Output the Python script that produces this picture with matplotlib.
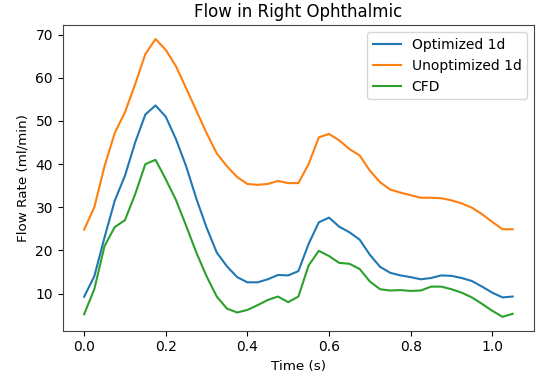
import numpy as np
import matplotlib
matplotlib.use('Agg')
import matplotlib.pyplot as plt

# time axis (s), one value every 0.025 s
time = np.round(np.arange(0, 1.05 + 1e-9, 0.025), 3)

optimized_1d = [9.25, 14.0, 23.0, 31.5, 37.3, 45.0, 51.5, 53.6, 51.0, 45.8,
                39.5, 32.0, 25.3, 19.5, 16.3, 13.8, 12.6, 12.6, 13.3, 14.3,
                14.2, 15.2, 21.5, 26.5, 27.6, 25.5, 24.2, 22.5, 19.0, 16.2,
                14.8, 14.2, 13.8, 13.3, 13.6, 14.2, 14.1, 13.6, 12.9, 11.6,
                10.2, 9.1, 9.3]

unoptimized_1d = [24.8, 30.0, 39.5, 47.2, 52.0, 58.5, 65.5, 69.0, 66.5, 62.7,
                  57.6, 52.4, 47.2, 42.5, 39.5, 37.0, 35.4, 35.2, 35.4, 36.1,
                  35.6, 35.6, 40.0, 46.2, 47.0, 45.5, 43.5, 42.0, 38.5, 35.8,
                  34.1, 33.4, 32.8, 32.2, 32.2, 32.1, 31.6, 30.9, 29.9, 28.4,
                  26.6, 24.9, 24.9]

cfd = [5.2, 11.0, 21.0, 25.4, 27.0, 33.0, 40.0, 41.0, 36.5, 31.7,
       25.7, 19.5, 14.0, 9.3, 6.5, 5.6, 6.2, 7.3, 8.5, 9.3,
       8.0, 9.3, 16.5, 19.9, 18.7, 17.1, 16.9, 15.7, 12.8, 11.0,
       10.7, 10.8, 10.6, 10.7, 11.6, 11.6, 11.0, 10.2, 9.1, 7.6,
       6.0, 4.6, 5.3]

fig, ax = plt.subplots(figsize=(5.45, 3.81), dpi=100)
fig.subplots_adjust(left=0.115, right=0.98, bottom=0.132, top=0.934)

ax.plot(time, optimized_1d, color='#1f77b4', linewidth=1.5, label='Optimized 1d')
ax.plot(time, unoptimized_1d, color='#ff7f0e', linewidth=1.5, label='Unoptimized 1d')
ax.plot(time, cfd, color='#2ca02c', linewidth=1.5, label='CFD')

ax.set_title('Flow in Right Ophthalmic', fontsize=12)
ax.set_xlabel('Time (s)', fontsize=9.7)
ax.set_ylabel('Flow Rate (ml/min)', fontsize=9.7)
ax.tick_params(labelsize=10)
ax.set_yticks([10, 20, 30, 40, 50, 60, 70])
for spine in ax.spines.values():
    spine.set_color('#444444')
ax.legend(loc='upper right', fontsize=10)

plt.savefig('out.png', dpi=100)
plt.close()
